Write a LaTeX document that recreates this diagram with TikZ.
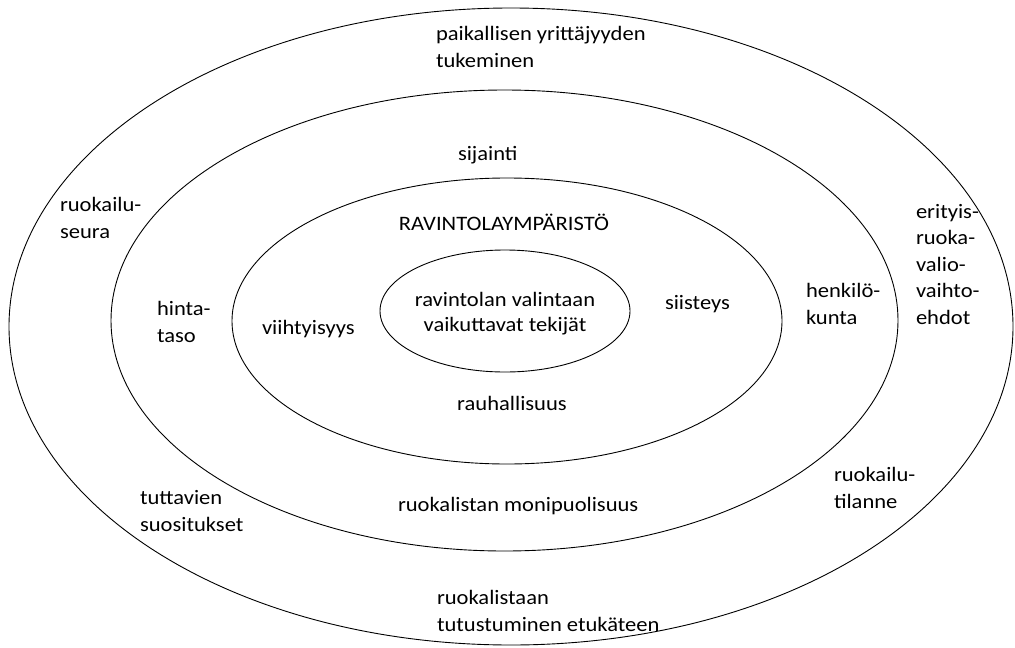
\documentclass[tikz,border=0pt]{standalone}
\usepackage{fontspec}
\setmainfont{Carlito}[FakeStretch=1.1]
\begin{document}
\begin{tikzpicture}[x=1pt,y=-1pt,
  ring/.style={draw=black,line width=0.9pt},
  lbl/.style={inner sep=0pt,outer sep=0pt,align=left,font=\fontsize{20.5}{26.5}\selectfont},
  clbl/.style={inner sep=0pt,outer sep=0pt,align=center,font=\fontsize{20.5}{24.5}\selectfont}]
\useasboundingbox (0,0) rectangle (1015,648);
% rings
\draw[ring] (511,326.5) ellipse [x radius=502, y radius=318.5];
\draw[ring] (504.5,320.5) ellipse [x radius=393.5, y radius=230.5];
\draw[ring] (507,321) ellipse [x radius=275, y radius=143];
\draw[ring] (505,311) ellipse [x radius=125, y radius=61];
% labels (anchor base = baseline of the last line)
\node[lbl,anchor=base west] (yrit) at (436,67) {paikallisen yrittäjyyden\\tukeminen};
\node[lbl,anchor=base west] (sij) at (458,160) {sijainti};
\node[lbl,anchor=base west] (seura) at (60,238) {ruokailu-\\seura};
\node[lbl,anchor=base] (ymp) at (504,230) {RAVINTOLAYMPÄRISTÖ};
\node[lbl,anchor=base west] (eri) at (916,324) {erityis-\\ruoka-\\valio-\\vaihto-\\ehdot};
\node[lbl,anchor=base west] (hinta) at (157,342) {hinta-\\taso};
\node[lbl,anchor=base west] (viiht) at (262,334) {viihtyisyys};
\node[clbl,anchor=base] (core) at (505,331) {ravintolan valintaan\\vaikuttavat tekijät};
\node[lbl,anchor=base west] (siist) at (665,309) {siisteys};
\node[lbl,anchor=base west] (henk) at (806,324) {henkilö-\\kunta};
\node[lbl,anchor=base] (rauh) at (512,410) {rauhallisuus};
\node[lbl,anchor=base west] (tilanne) at (834,508) {ruokailu-\\tilanne};
\node[lbl,anchor=base west] (tutt) at (140,531) {tuttavien\\suositukset};
\node[lbl,anchor=base west] (moni) at (398,511) {ruokalistan monipuolisuus};
\node[lbl,anchor=base west] (etuk) at (437,631) {ruokalistaan\\tutustuminen etukäteen};
\end{tikzpicture}
\end{document}
